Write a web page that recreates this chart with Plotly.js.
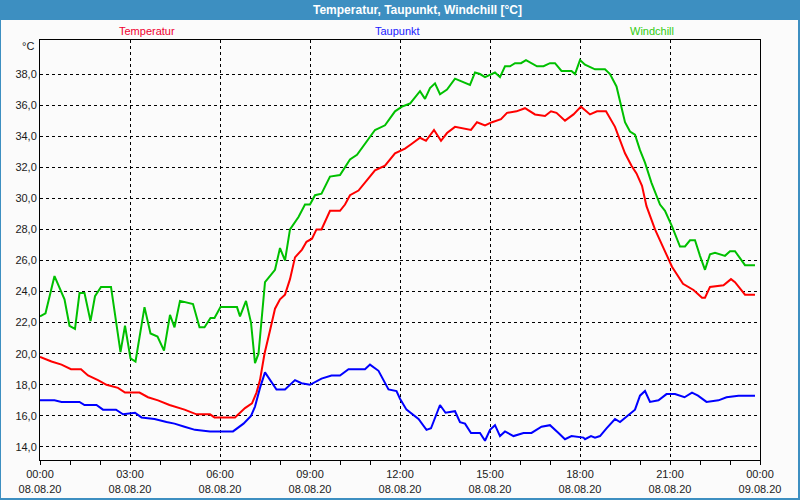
<!DOCTYPE html>
<html>
<head>
<meta charset="utf-8">
<script src="https://cdn.plot.ly/plotly-3.0.1.min.js"></script>
<style>
  body { margin: 0; padding: 0; }
  #chart { width: 800px; height: 500px; }
</style>
</head>
<body>
<div id="chart"></div>
<script>
// values, 08.08.20
var day = "2020-08-08 ";

var tempTimes = ["00:00","00:23","00:43","01:02","01:22","01:36","01:56","02:13","02:36","02:50",
  "03:19","03:36","03:56","04:19","04:49","05:13","05:40","05:49","06:30","06:50",
  "07:04","07:13","07:20","07:29","07:40","07:50","08:00","08:10","08:20","08:30",
  "08:44","08:53","09:04","09:13","09:23","09:40","10:00","10:10","10:20","10:37",
  "11:10","11:30","11:50","12:10","12:23","12:40","12:52","13:08","13:22","13:34",
  "13:50","14:10","14:22","14:34","14:50","15:04","15:22","15:34","15:53","16:10",
  "16:30","16:50","17:02","17:13","17:30","17:47","18:02","18:20","18:34","18:52",
  "19:10","19:30","19:43","19:53","20:04","20:13","20:30","20:47","21:04","21:26",
  "21:47","22:04","22:10","22:20","22:47","23:02","23:10","23:30","23:50"];
var tempValues = [19.8,19.5,19.3,19.0,19.0,18.6,18.3,18.0,17.8,17.5,
  17.5,17.2,17.0,16.7,16.4,16.1,16.1,15.9,15.9,16.5,
  16.8,17.5,18.3,20.0,21.5,22.9,23.5,23.8,24.8,26.2,
  26.7,27.2,27.4,28.0,28.0,29.2,29.2,29.6,30.2,30.5,
  31.8,32.1,32.9,33.2,33.5,33.9,33.7,34.4,33.7,34.2,
  34.6,34.5,34.4,34.9,34.7,34.9,35.1,35.5,35.6,35.8,
  35.4,35.3,35.6,35.5,35.0,35.4,35.9,35.4,35.6,35.6,
  34.6,32.9,32.1,31.6,30.8,29.5,28.0,26.8,25.6,24.5,
  24.1,23.6,23.6,24.3,24.4,24.8,24.6,23.8,23.8];

var dewTimes = ["00:00","00:29","00:43","01:13","01:19","01:29","01:53","02:06","02:32","02:46",
  "03:10","03:23","03:49","04:13","04:29","04:49","05:10","05:40","06:26","06:47",
  "07:02","07:10","07:20","07:30","07:40","07:53","08:10","08:30","08:43","09:00",
  "09:23","09:43","10:00","10:17","10:37","10:50","11:00","11:17","11:37","11:53",
  "12:00","12:13","12:37","12:53","13:02","13:20","13:31","13:50","14:00","14:10",
  "14:22","14:40","14:50","15:00","15:10","15:20","15:30","15:47","16:07","16:23",
  "16:43","17:00","17:17","17:30","17:43","18:07","18:10","18:22","18:30","18:40",
  "18:53","19:10","19:20","19:34","19:50","20:00","20:10","20:20","20:37","20:53",
  "21:10","21:29","21:44","21:56","22:13","22:37","22:53","23:17","23:50"];
var dewValues = [17.0,17.0,16.9,16.9,16.9,16.7,16.7,16.4,16.4,16.1,
  16.2,15.9,15.8,15.6,15.5,15.3,15.1,15.0,15.0,15.5,
  16.0,16.6,17.8,18.8,18.3,17.7,17.7,18.3,18.1,18.0,
  18.4,18.6,18.6,19.0,19.0,19.0,19.3,18.9,17.7,17.6,
  17.1,16.4,15.8,15.1,15.2,16.7,16.2,16.3,15.6,15.5,
  14.9,14.9,14.4,15.1,15.4,14.7,15.0,14.7,14.9,14.9,
  15.3,15.4,14.9,14.5,14.7,14.6,14.5,14.7,14.6,14.7,
  15.2,15.8,15.6,16.0,16.4,17.3,17.6,16.9,17.0,17.4,
  17.4,17.2,17.5,17.3,16.9,17.0,17.2,17.3,17.3];

var chillTimes = ["00:00","00:11","00:29","00:40","00:49","00:59","01:10","01:19","01:29","01:41",
  "01:50","02:02","02:22","02:32","02:41","02:50","03:01","03:11","03:29","03:41",
  "03:55","04:08","04:20","04:29","04:40","05:06","05:19","05:29","05:41","05:49",
  "06:01","06:16","06:34","06:40","06:52","07:02","07:10","07:17","07:23","07:30",
  "07:50","08:00","08:10","08:20","08:37","08:50","09:00","09:10","09:23","09:40",
  "10:00","10:20","10:34","11:00","11:10","11:30","11:50","12:04","12:20","12:40",
  "12:50","13:00","13:10","13:20","13:34","13:50","14:07","14:20","14:30","14:40",
  "14:50","15:10","15:20","15:30","15:40","15:50","16:02","16:12","16:34","16:47",
  "17:00","17:10","17:23","17:43","17:50","18:00","18:10","18:30","18:50","19:00",
  "19:13","19:30","19:40","19:50","20:00","20:10","20:23","20:40","20:50","21:04",
  "21:20","21:30","21:40","21:50","22:00","22:10","22:20","22:30","22:50","23:00",
  "23:10","23:30","23:50"];
var chillValues = [22.4,22.6,25.0,24.2,23.5,21.8,21.6,23.9,23.9,22.1,
  23.7,24.3,24.3,22.1,20.1,21.8,19.7,19.5,23.0,21.3,
  21.1,20.2,22.5,21.7,23.4,23.2,21.7,21.7,22.3,22.3,
  23.0,23.0,23.0,22.4,23.4,22.0,19.4,20.0,22.0,24.6,
  25.4,26.8,26.0,28.0,28.8,29.6,29.6,30.2,30.3,31.4,
  31.5,32.5,32.8,33.9,34.4,34.7,35.6,35.9,36.1,36.9,
  36.4,37.1,37.4,36.7,37.0,37.7,37.5,37.3,38.1,38.0,
  37.8,38.1,37.8,38.5,38.5,38.7,38.7,38.9,38.5,38.5,
  38.7,38.7,38.2,38.2,38.0,38.9,38.6,38.3,38.3,38.0,
  37.2,34.9,34.3,34.1,33.1,32.3,31.0,29.6,29.2,28.2,
  26.9,26.9,27.3,27.3,26.3,25.4,26.4,26.5,26.3,26.6,
  26.6,25.7,25.7];

var xTickTimes = ["2020-08-08 00:00","2020-08-08 03:00","2020-08-08 06:00","2020-08-08 09:00",
  "2020-08-08 12:00","2020-08-08 15:00","2020-08-08 18:00","2020-08-08 21:00","2020-08-09 00:00"];
var xTickLabels = ["00:00<br>08.08.20","03:00<br>08.08.20","06:00<br>08.08.20","09:00<br>08.08.20",
  "12:00<br>08.08.20","15:00<br>08.08.20","18:00<br>08.08.20","21:00<br>08.08.20","00:00<br>09.08.20"];
var yTicks = [14,16,18,20,22,24,26,28,30,32,34,36,38];
var yTickLabels = yTicks.map(v => v.toFixed(1).replace(".", ","));

var withDay = t => t.map(s => day + s);

var data = [
  { x: withDay(tempTimes), y: tempValues, type: "scatter", mode: "lines",
    line: { color: "#ff0000", width: 2 }, name: "Temperatur" },
  { x: withDay(dewTimes), y: dewValues, type: "scatter", mode: "lines",
    line: { color: "#0000ff", width: 2 }, name: "Taupunkt" },
  { x: withDay(chillTimes), y: chillValues, type: "scatter", mode: "lines",
    line: { color: "#00c000", width: 2 }, name: "Windchill" }
];

// pixel -> paper helpers (plot area is 40..760 x 40..460)
var px = p => (p - 40) / 720;
var py = p => (460 - p) / 420;

var layout = {
  width: 800, height: 500,
  margin: { l: 40, r: 40, t: 40, b: 40 },
  paper_bgcolor: "#3d8fc1",
  plot_bgcolor: "#fbfbfb",
  showlegend: false,
  font: { family: "Liberation Sans, Arial, sans-serif", size: 11, color: "#1a1a1a" },
  xaxis: {
    type: "date",
    range: ["2020-08-08 00:00", "2020-08-09 00:00"],
    tickvals: xTickTimes, ticktext: xTickLabels,
    ticks: "outside", ticklen: 4, tickcolor: "#000",
    minor: { dtick: 3600000, ticks: "outside", ticklen: 4, tickcolor: "#000", showgrid: false },
    showgrid: true, gridcolor: "#000", gridwidth: 1, griddash: "3px,3px",
    showline: true, linecolor: "#000", linewidth: 1, mirror: true,
    zeroline: false, fixedrange: true
  },
  yaxis: {
    range: [13.16, 40.19],
    tickvals: yTicks, ticktext: yTickLabels,
    ticks: "",
    showgrid: true, gridcolor: "#000", gridwidth: 1, griddash: "3px,3px",
    showline: true, linecolor: "#000", linewidth: 1, mirror: true,
    zeroline: false, fixedrange: true
  },
  shapes: [
    { type: "rect", xref: "paper", yref: "paper", layer: "below",
      x0: px(1), x1: px(798), y0: py(498), y1: py(20),
      fillcolor: "#fbfbfb", line: { width: 0 } }
  ],
  annotations: [
    { text: "<b>Temperatur, Taupunkt, Windchill [°C]</b>", xref: "paper", yref: "paper",
      x: px(417), y: py(10), showarrow: false, xanchor: "center", yanchor: "middle",
      font: { family: "Liberation Sans, Arial, sans-serif", size: 12, color: "#ffffff" } },
    { text: "Temperatur", xref: "paper", yref: "paper", x: px(147), y: py(31),
      showarrow: false, xanchor: "center", yanchor: "middle",
      font: { size: 11, color: "#f00030" } },
    { text: "Taupunkt", xref: "paper", yref: "paper", x: px(397), y: py(31),
      showarrow: false, xanchor: "center", yanchor: "middle",
      font: { size: 11, color: "#2020ff" } },
    { text: "Windchill", xref: "paper", yref: "paper", x: px(652), y: py(31),
      showarrow: false, xanchor: "center", yanchor: "middle",
      font: { size: 11, color: "#30cc10" } },
    { text: "°C", xref: "paper", yref: "paper", x: px(36), y: py(46),
      showarrow: false, xanchor: "right", yanchor: "middle",
      font: { size: 11, color: "#1a1a1a" } }
  ]
};

Plotly.newPlot("chart", data, layout, { staticPlot: true });
</script>
</body>
</html>
